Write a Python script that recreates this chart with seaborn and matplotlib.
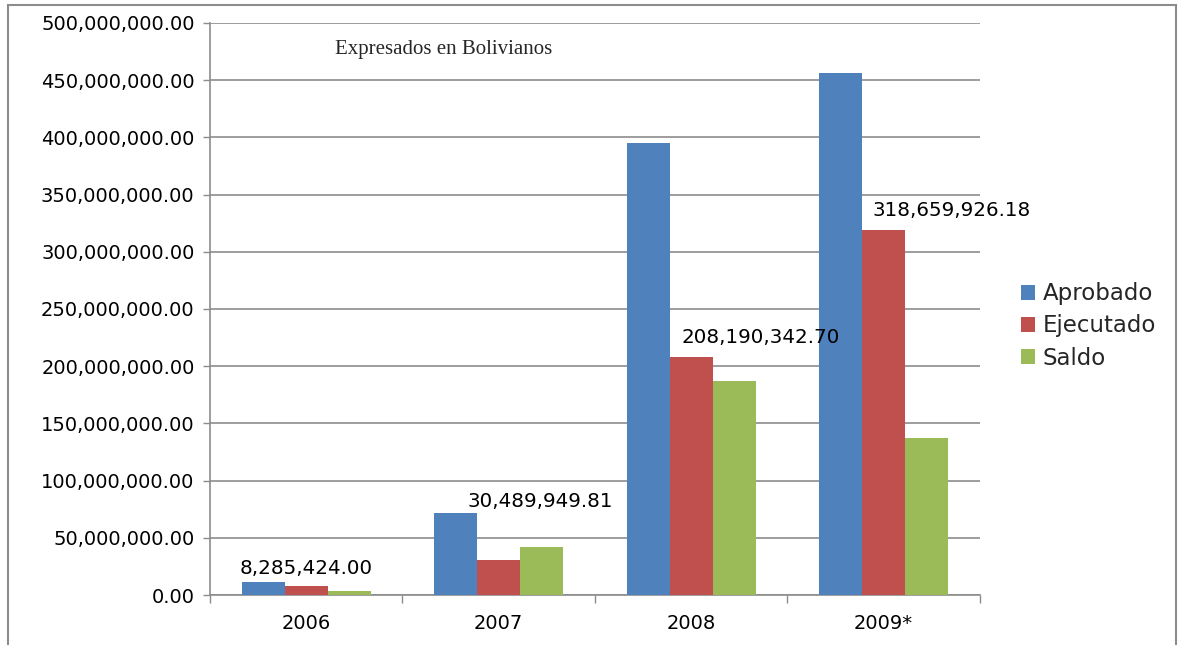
import matplotlib
matplotlib.use("Agg")
import matplotlib.pyplot as plt
import seaborn as sns
import pandas as pd
import numpy as np
from matplotlib.patches import Rectangle
from matplotlib.ticker import FuncFormatter, FixedLocator

years = ["2006", "2007", "2008", "2009*"]
aprobado = [11400000, 71700000, 395000000, 456000000]
ejecutado = [8285424.00, 30489949.81, 208190342.70, 318659926.18]
saldo = [3100000, 41700000, 186800000, 137300000]
series = ["Aprobado", "Ejecutado", "Saldo"]
colors = ["#4F81BD", "#C0504D", "#9BBB59"]

df = pd.DataFrame({
    "year": years * 3,
    "serie": np.repeat(series, len(years)),
    "valor": aprobado + ejecutado + saldo,
})

sns.set_style("white")
plt.rcParams["font.family"] = ["DejaVu Sans"]
GRID = "#8c8c8c"

fig = plt.figure(figsize=(11.79, 6.45), dpi=100)
ax = fig.add_axes([0.178, 0.0775, 0.653, 0.887])

sns.barplot(data=df, x="year", y="valor", hue="serie", palette=colors,
            width=0.67, saturation=1, linewidth=0, ax=ax, legend=True,
            zorder=3)

# y axis
ax.set_ylim(0, 500000000)
ax.yaxis.set_major_locator(FixedLocator(np.arange(0, 500000001, 50000000)))
ax.yaxis.set_major_formatter(FuncFormatter(lambda v, p: f"{v:,.2f}"))
ax.yaxis.grid(True, color=GRID, linewidth=1.2, zorder=0)
ax.set_axisbelow(True)
ax.tick_params(axis="y", length=5, width=1, color=GRID, pad=6,
               labelsize=14, labelcolor="black", left=True)

# x axis: labels centred, tick marks between categories
ax.set_xlim(-0.5, len(years) - 0.5)
ax.tick_params(axis="x", length=0, pad=14, labelsize=14, labelcolor="black")
ax.set_xticks(np.arange(-0.5, len(years)), minor=True)
ax.tick_params(axis="x", which="minor", length=6, width=1, color=GRID,
               bottom=True)
ax.set_xlabel("")
ax.set_ylabel("")

for s in ["top", "right"]:
    ax.spines[s].set_visible(False)
for s in ["left", "bottom"]:
    ax.spines[s].set_color(GRID)
    ax.spines[s].set_linewidth(1.2)

# labels on the Ejecutado bars
offsets = [(0, 12), (30, 42), (50, 14), (49, 14)]
for bar, val, off in zip(ax.containers[1], ejecutado, offsets):
    ax.annotate(f"{val:,.2f}",
                xy=(bar.get_x() + bar.get_width() / 2, bar.get_height()),
                xytext=off, textcoords="offset points",
                ha="center", va="center", fontsize=14.3, color="black")

ax.text(0.162, 0.953, "Expresados en Bolivianos", transform=ax.transAxes,
        family="Liberation Serif", fontsize=15, va="center", ha="left")

# legend outside on the right
handles, labels = ax.get_legend_handles_labels()
ax.get_legend().remove()
fig.legend(handles, labels, loc="center left", bbox_to_anchor=(0.866, 0.4946),
           frameon=False, fontsize=16.5, handlelength=0.6, handleheight=0.6,
           handletextpad=0.35, labelspacing=0.4, borderpad=0,
           borderaxespad=0)

# outer chart frame
fig.patches.append(Rectangle((0.0068, -0.02), 0.9907, 1.012,
                             transform=fig.transFigure, fill=False,
                             edgecolor="#8c8c8c", linewidth=1.5))

fig.savefig("out.png", dpi=100)
